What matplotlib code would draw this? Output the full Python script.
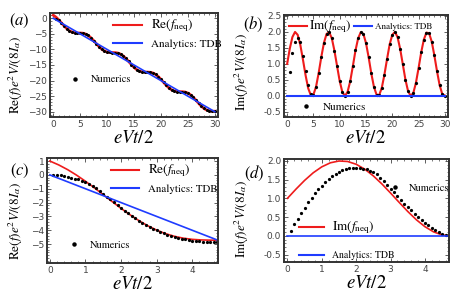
import numpy as np
import matplotlib.pyplot as plt
from matplotlib.lines import Line2D

plt.rcParams['font.family'] = 'serif'
plt.rcParams['font.serif'] = ['STIXGeneral', 'DejaVu Serif']
plt.rcParams['mathtext.fontset'] = 'stix'

# ---- data ----
# long time window, step 0.5
x_long = [0.0, 0.5, 1.0, 1.5, 2.0, 2.5, 3.0, 3.5, 4.0, 4.5, 5.0, 5.5, 6.0, 6.5, 7.0, 7.5,
          8.0, 8.5, 9.0, 9.5, 10.0, 10.5, 11.0, 11.5, 12.0, 12.5, 13.0, 13.5, 14.0, 14.5,
          15.0, 15.5, 16.0, 16.5, 17.0, 17.5, 18.0, 18.5, 19.0, 19.5, 20.0, 20.5, 21.0,
          21.5, 22.0, 22.5, 23.0, 23.5, 24.0, 24.5, 25.0, 25.5, 26.0, 26.5, 27.0, 27.5,
          28.0, 28.5, 29.0, 29.5, 30.0]
re_long = [1.00, 0.38, -0.46, -1.43, -2.42, -3.30, -3.99, -4.44, -4.65, -4.71, -4.72,
           -4.79, -5.04, -5.52, -6.25, -7.15, -8.15, -9.10, -9.91, -10.50, -10.84, -10.98,
           -11.00, -11.02, -11.16, -11.50, -12.09, -12.91, -13.86, -14.86, -15.76, -16.48,
           -16.96, -17.20, -17.28, -17.28, -17.34, -17.56, -18.01, -18.70, -19.59, -20.58,
           -21.55, -22.38, -23.00, -23.37, -23.53, -23.56, -23.58, -23.69, -24.01, -24.57,
           -25.35, -26.30, -27.29, -28.22, -28.96, -29.48, -29.75, -29.84, -29.85]
im_long = [1.00, 1.48, 1.84, 2.00, 1.91, 1.60, 1.14, 0.65, 0.24, 0.02, 0.04, 0.29, 0.72,
           1.22, 1.66, 1.94, 1.99, 1.80, 1.41, 0.93, 0.46, 0.12, 0.00, 0.13, 0.46, 0.93,
           1.42, 1.80, 1.99, 1.94, 1.65, 1.21, 0.71, 0.29, 0.04, 0.02, 0.25, 0.66, 1.15,
           1.61, 1.91, 2.00, 1.84, 1.47, 0.99, 0.51, 0.15, 0.00, 0.09, 0.41, 0.87, 1.36,
           1.76, 1.98, 1.96, 1.70, 1.27, 0.78, 0.34, 0.06, 0.01]
tdb_long = [-v for v in x_long]
im_tdb_long = [0.0 for v in x_long]

# numerics: transient at the start, then on top of the analytic curve
x_num_long = x_long[1:]
re_num_long = [-0.13, -0.53, -1.36, -2.39, -3.31, -4.01] + re_long[7:]
im_num_long = [0.75, 1.34, 1.70, 1.81, 1.70, 1.26, 0.77, 0.35, 0.06] + im_long[10:]

# short time window
x_short = [0.0, 0.25, 0.5, 0.75, 1.0, 1.25, 1.5, 1.75, 2.0, 2.25, 2.5, 2.75, 3.0, 3.25,
           3.5, 3.75, 4.0, 4.25, 4.5, 4.71]
re_short = [1.000, 0.719, 0.378, -0.018, -0.460, -0.935, -1.429, -1.928, -2.416, -2.878,
            -3.301, -3.674, -3.990, -4.244, -4.436, -4.570, -4.654, -4.696, -4.711, -4.71]
im_short = [1.000, 1.247, 1.479, 1.682, 1.841, 1.949, 1.997, 1.984, 1.909, 1.778, 1.598,
            1.382, 1.141, 0.892, 0.649, 0.428, 0.243, 0.105, 0.022, 0.000]
tdb_short = [-v for v in x_short]
im_tdb_short = [0.0 for v in x_short]

x_num_c = [0.1, 0.2, 0.3, 0.4, 0.5, 0.6, 0.7, 0.8, 0.9, 1.0, 1.1, 1.2, 1.3, 1.4, 1.5, 1.6,
           1.7, 1.8, 1.9, 2.0, 2.1, 2.2, 2.3, 2.4, 2.5, 2.6, 2.7, 2.8, 2.9, 3.0, 3.1, 3.2,
           3.3, 3.4, 3.5, 3.6, 3.7, 3.8, 3.9, 4.0, 4.1, 4.2, 4.3, 4.4, 4.5, 4.6, 4.7]
re_num_c = [0.01, -0.01, -0.04, -0.08, -0.13, -0.19, -0.26, -0.33, -0.42, -0.53, -0.66,
            -0.81, -0.98, -1.16, -1.36, -1.57, -1.77, -1.98, -2.18, -2.39, -2.59, -2.78,
            -2.96, -3.14, -3.31, -3.47, -3.62, -3.76, -3.89, -4.01, -4.12, -4.22, -4.31,
            -4.40, -4.47, -4.54, -4.60, -4.65, -4.70, -4.74, -4.77, -4.80, -4.82, -4.84,
            -4.85, -4.86, -4.87]
x_num_d = x_num_c[:-1]
im_num_d = [0.14, 0.31, 0.45, 0.62, 0.75, 0.89, 1.01, 1.13, 1.24, 1.34, 1.43, 1.51, 1.59,
            1.65, 1.70, 1.75, 1.78, 1.80, 1.81, 1.81, 1.80, 1.79, 1.77, 1.74, 1.70, 1.64,
            1.55, 1.45, 1.36, 1.26, 1.16, 1.06, 0.96, 0.86, 0.77, 0.68, 0.59, 0.51, 0.43,
            0.35, 0.28, 0.21, 0.15, 0.10, 0.06, 0.03]

RED = '#ee1c1c'
BLUE = '#1f3cff'
W, H = 469, 293

fig = plt.figure(figsize=(4.69, 2.93), dpi=100)


def make_ax(l, t, r, b):
    ax = fig.add_axes([l / W, 1 - b / H, (r - l) / W, (b - t) / H])
    for s in ax.spines.values():
        s.set_linewidth(1.4)
        s.set_color('#333333')
    ax.tick_params(direction='in', top=True, right=True, labelsize=6.5, length=3,
                   width=0.6, colors='#444444', pad=2)
    ax.tick_params(which='minor', direction='in', top=True, right=True, length=1.5,
                   width=0.5, colors='#444444')
    ax.minorticks_on()
    ax.set_xlabel('$eVt/2$', fontsize=13.5, labelpad=1)
    return ax


def finish(ax, ylab, lx, ly):
    ax.set_ylabel(ylab, fontsize=9.5)
    ax.yaxis.set_label_coords(lx, ly)
    for lab in ax.get_xticklabels() + ax.get_yticklabels():
        lab.set_family('DejaVu Sans')
        lab.set_color('#444444')


num_handle = Line2D([], [], ls='none', marker='o', ms=2.2, color='black')
red_handle = Line2D([], [], color=RED, lw=1.5)
blue_handle = Line2D([], [], color=BLUE, lw=1.5)
RE_LAB = 'Re$(f)e^2V/(8I_\\alpha)$'
IM_LAB = 'Im$(f)e^2V/(8I_\\alpha)$'

# (a)
ax = make_ax(50, 13, 218, 117)
ax.plot(x_long, re_long, color=RED, lw=2.0)
ax.plot(x_num_long, re_num_long, 'o', ms=1.2, color='black')
ax.plot(x_long, tdb_long, color=BLUE, lw=1.2)
ax.set_xlim(-0.6, 30.6)
ax.set_ylim(-31.7, 1.7)
ax.set_xticks([0, 5, 10, 15, 20, 25, 30])
ax.set_yticks([0, -5, -10, -15, -20, -25, -30])
leg = ax.legend([red_handle, blue_handle], ['Re$(f_{\\rm neq})$', 'Analytics: TDB'],
                loc='upper left', bbox_to_anchor=(0.33, 1.03), frameon=False,
                fontsize=8, handlelength=2.6, labelspacing=0.45, borderpad=0.2)
leg.get_texts()[0].set_fontsize(9.5)
ax.add_artist(leg)
ax.legend([num_handle], ['Numerics'], loc='center left', bbox_to_anchor=(0.07, 0.36),
          frameon=False, fontsize=7.5, handlelength=1.5, borderpad=0)
finish(ax, RE_LAB, -0.15, 0.40)
ax.text(-0.18, 0.92, '$(a)$', transform=ax.transAxes, fontsize=12, ha='center', va='center')

# (b)
ax = make_ax(284, 15, 448, 117)
ax.plot(x_long, im_long, color=RED, lw=1.5)
ax.plot(x_num_long, im_num_long, 'o', ms=1.3, color='black')
ax.plot(x_long, im_tdb_long, color=BLUE, lw=1.5)
ax.set_xlim(-0.6, 30.6)
ax.set_ylim(-0.66, 2.53)
ax.set_xticks([0, 5, 10, 15, 20, 25, 30])
ax.set_yticks([-0.5, 0.0, 0.5, 1.0, 1.5, 2.0, 2.5])
ax.set_yticklabels(['-0.5', '0.0', '0.5', '1.0', '1.5', '2.0', '2.5'])
leg = ax.legend([red_handle, blue_handle], ['Im$(f_{\\rm neq})$', 'Analytics: TDB'],
                loc='upper left', bbox_to_anchor=(-0.01, 1.03), frameon=False, ncol=2,
                fontsize=6.5, handlelength=2.0, columnspacing=0.2, handletextpad=0.3,
                borderpad=0.2)
leg.get_texts()[0].set_fontsize(9.5)
ax.add_artist(leg)
ax.legend([num_handle], ['Numerics'], loc='center left', bbox_to_anchor=(0.05, 0.1),
          frameon=False, fontsize=8, handlelength=1.5, borderpad=0)
finish(ax, IM_LAB, -0.2, 0.44)
ax.text(-0.19, 0.91, '$(b)$', transform=ax.transAxes, fontsize=12, ha='center', va='center')

# (c)
ax = make_ax(47, 158, 218, 263)
ax.plot(x_short, re_short, color=RED, lw=1.2)
ax.plot(x_num_c, re_num_c, 'o', ms=1.3, color='black')
ax.plot(x_short, tdb_short, color=BLUE, lw=1.2)
ax.set_xlim(-0.08, 4.72)
ax.set_ylim(-6.36, 1.22)
ax.set_xticks([0, 1, 2, 3, 4])
ax.set_yticks([1, 0, -1, -2, -3, -4, -5])
leg = ax.legend([red_handle, blue_handle], ['Re$(f_{\\rm neq})$', 'Analytics: TDB'],
                loc='upper left', bbox_to_anchor=(0.33, 1.03), frameon=False,
                fontsize=7.8, handlelength=2.6, labelspacing=0.45, borderpad=0.2)
leg.get_texts()[0].set_fontsize(9.5)
ax.add_artist(leg)
ax.legend([num_handle], ['Numerics'], loc='center left', bbox_to_anchor=(0.08, 0.17),
          frameon=False, fontsize=7.5, handlelength=1.5, borderpad=0)
finish(ax, RE_LAB, -0.13, 0.40)
ax.text(-0.16, 0.88, '$(c)$', transform=ax.transAxes, fontsize=12, ha='center', va='center')

# (d)
ax = make_ax(284, 159, 449, 262)
ax.plot(x_short, im_short, color=RED, lw=1.2)
ax.plot(x_num_d, im_num_d, 'o', ms=1.3, color='black')
ax.plot(x_short, im_tdb_short, color=BLUE, lw=1.2)
ax.set_xlim(-0.1, 4.70)
ax.set_ylim(-0.70, 2.05)
ax.set_xticks([0, 1, 2, 3, 4])
ax.set_yticks([-0.5, 0.0, 0.5, 1.0, 1.5, 2.0])
ax.set_yticklabels(['-0.5', '0.0', '0.5', '1.0', '1.5', '2.0'])
leg = ax.legend([red_handle, blue_handle], ['Im$(f_{\\rm neq})$', 'Analytics: TDB'],
                loc='upper left', bbox_to_anchor=(0.05, 0.48), frameon=False,
                fontsize=7, handlelength=2.6, labelspacing=1.5, borderpad=0.2)
leg.get_texts()[0].set_fontsize(9.5)
ax.add_artist(leg)
ax.legend([num_handle], ['Numerics'], loc='center left', bbox_to_anchor=(0.61, 0.72),
          frameon=False, fontsize=7.5, handlelength=1.0, borderpad=0)
finish(ax, IM_LAB, -0.2, 0.42)
ax.text(-0.18, 0.86, '$(d)$', transform=ax.transAxes, fontsize=12, ha='center', va='center')

fig.savefig('out.png', dpi=100)
